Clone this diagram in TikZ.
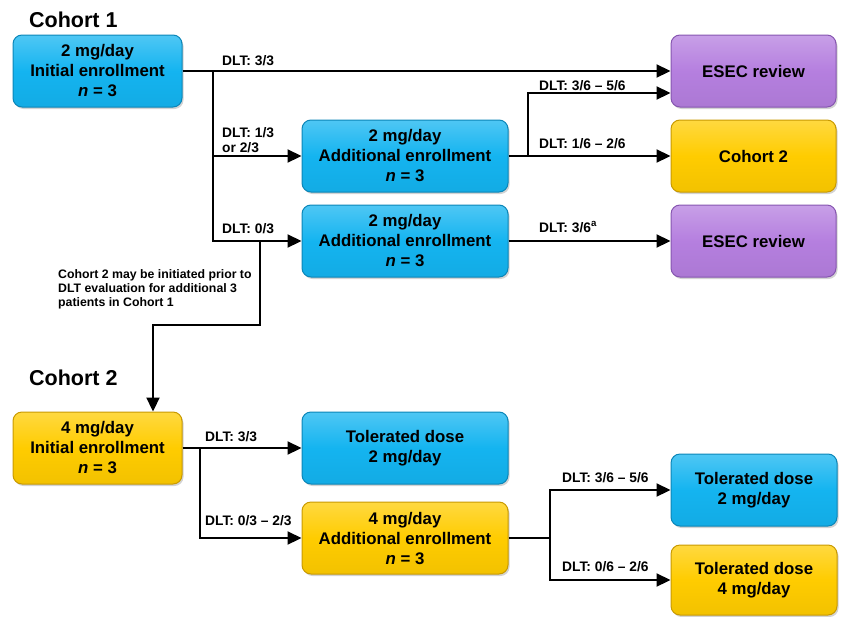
\documentclass[tikz,border=0pt]{standalone}
\usepackage{fontspec}
\setmainfont{Liberation Sans}
\usetikzlibrary{arrows.meta,shadows,calc}
\definecolor{cblue}{HTML}{14B4F0}
\definecolor{cbluedk}{HTML}{0B86B8}
\definecolor{cyel}{HTML}{FFCC00}
\definecolor{cyeldk}{HTML}{C99A00}
\definecolor{cpur}{HTML}{B57FDF}
\definecolor{cpurdk}{HTML}{8656B0}
\tikzset{
  box/.style={rounded corners=9pt, minimum height=72pt, inner sep=0pt, align=center,
    font=\fontsize{16.8}{20}\selectfont\bfseries, line width=1pt,
    drop shadow={shadow xshift=1.5pt, shadow yshift=-2pt, opacity=0.35}},
  bluebox/.style={box, top color=cblue!75!white, bottom color=cblue!95!black, middle color=cblue, draw=cbluedk},
  yelbox/.style={box, top color=cyel!75!white, bottom color=cyel!95!black, middle color=cyel, draw=cyeldk},
  purbox/.style={box, top color=cpur!75!white, bottom color=cpur!95!black, middle color=cpur, draw=cpurdk},
  conn/.style={line width=2.2pt, line join=miter},
  arr/.style={conn, -{Triangle[length=14pt,width=13pt]}},
  lbl/.style={anchor=base west, inner sep=0pt, font=\fontsize{13.8}{15}\selectfont\bfseries},
  head/.style={anchor=base west, inner sep=0pt, font=\fontsize{21.5}{24}\selectfont\bfseries},
  note/.style={anchor=north west, inner sep=0pt, align=left, font=\fontsize{12.3}{14}\selectfont\bfseries}
}
\begin{document}
\begin{tikzpicture}[x=1pt,y=-1pt]
\useasboundingbox (0,0) rectangle (846,616);
% headings
\node[head] (h1) at (29,27) {Cohort 1};
\node[head] (h2) at (29,385) {Cohort 2};
% boxes
\node[bluebox, minimum width=169pt] (c1) at (97.5,71) {2 mg/day\\Initial enrollment\\\textit{n} = 3};
\node[purbox, minimum width=165pt] (esec1) at (753.5,71) {ESEC review};
\node[bluebox, minimum width=206pt] (add1) at (405,156) {2 mg/day\\Additional enrollment\\\textit{n} = 3};
\node[yelbox, minimum width=165pt] (co2) at (753.5,156) {Cohort 2};
\node[bluebox, minimum width=206pt] (add2) at (405,241) {2 mg/day\\Additional enrollment\\\textit{n} = 3};
\node[purbox, minimum width=165pt] (esec2) at (753.5,241) {ESEC review};
\node[yelbox, minimum width=169pt] (c2) at (97.5,448) {4 mg/day\\Initial enrollment\\\textit{n} = 3};
\node[bluebox, minimum width=206pt] (tol1) at (405,448) {Tolerated dose\\2 mg/day};
\node[yelbox, minimum width=206pt] (add3) at (405,538) {4 mg/day\\Additional enrollment\\\textit{n} = 3};
\node[bluebox, minimum width=166pt] (tol2) at (754,490) {Tolerated dose\\2 mg/day};
\node[yelbox, minimum width=166pt, minimum height=70pt] (tol3) at (754,580) {Tolerated dose\\4 mg/day};
% coordinates
\coordinate (b1) at (213,71);
\coordinate (b2) at (528,156);
\coordinate (e1) at ($(esec1.west)+(0,22)$);
\coordinate (k1) at (260,241);
\coordinate (k2) at (260,325);
\coordinate (k3) at (153,325);
\coordinate (b3) at (200,448);
\coordinate (b4) at (550,538);
% connectors
\draw[arr] (c1.east) -- (esec1.west);
\draw[arr] (b1) |- (add1.west);
\draw[arr] (b1) |- (add2.west);
\draw[arr] (add1.east) -- (co2.west);
\draw[arr] (b2) |- (e1);
\draw[arr] (add2.east) -- (esec2.west);
\draw[arr] (k1) -- (k2) -- (k3) -- (k3|-c2.north);
\draw[arr] (c2.east) -- (tol1.west);
\draw[arr] (b3) |- (add3.west);
\draw[conn] (add3.east) -- (b4);
\draw[arr] (b4) |- (tol2.west);
\draw[arr] (b4) |- (tol3.west);
% labels
\node[lbl] (l1) at (222,65) {DLT: 3/3};
\node[lbl] (l2) at (222,137) {DLT: 1/3};
\node[lbl] (l3) at (222,152) {or 2/3};
\node[lbl] (l4) at (222,233) {DLT: 0/3};
\node[lbl] (l5) at (539,90) {DLT: 3/6 – 5/6};
\node[lbl] (l6) at (539,148) {DLT: 1/6 – 2/6};
\node[lbl] (l7) at (539,232) {DLT: 3/6\textsuperscript{a}};
\node[note] (n1) at (58,269) {Cohort 2 may be initiated prior to\\DLT evaluation for additional 3\\patients in Cohort 1};
\node[lbl] (l8) at (205,441) {DLT: 3/3};
\node[lbl] (l9) at (205,525) {DLT: 0/3 – 2/3};
\node[lbl] (l10) at (562,482) {DLT: 3/6 – 5/6};
\node[lbl] (l11) at (562,571) {DLT: 0/6 – 2/6};
\end{tikzpicture}
\end{document}
